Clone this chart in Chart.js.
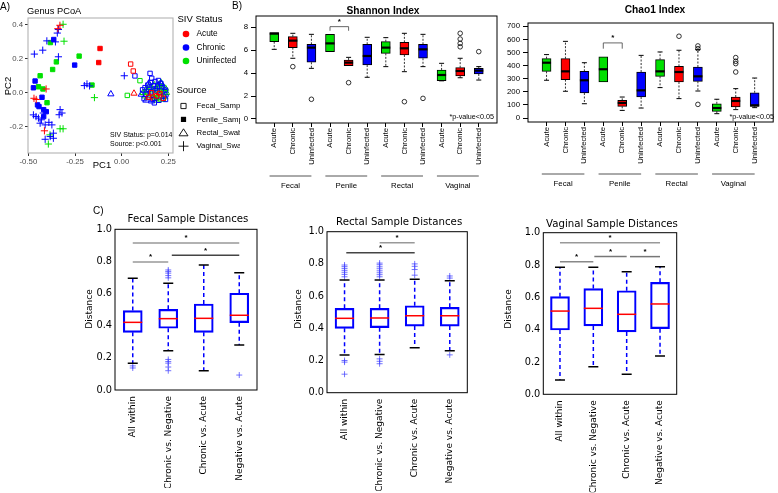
<!DOCTYPE html>
<html><head><meta charset="utf-8"><title>SIV microbiome diversity</title>
<script src="https://cdn.jsdelivr.net/npm/chart.js@4.4.1/dist/chart.umd.min.js"></script>
<style>html,body{margin:0;padding:0;background:#fff;}body{width:778px;height:493px;position:relative;overflow:hidden}canvas{position:absolute;left:0;top:0}</style>
</head><body>
<script>
// ================= DATA =================
// Panel A: Genus PCoA (PC1, PC2) by source and SIV status
const statusNames = ['Acute','Chronic','Uninfected'];
const sourceNames = ['Fecal_Sample','Penile_Sample','Rectal_Swab','Vaginal_Swab'];
const vaginalAcute = [[-0.331,0.398],[-0.342,0.378],[-0.405,0.022],[-0.470,-0.033],[-0.458,-0.040],[-0.414,-0.225]];
const vaginalChronic = [[-0.339,0.373],[-0.345,0.352],[-0.401,0.306],[-0.355,0.300],[-0.423,0.251],[-0.468,0.228],[-0.339,0.212],[-0.200,0.042],[-0.186,0.052],[-0.172,0.040],[0.014,0.100],[-0.473,-0.131],[-0.459,-0.141],[-0.446,-0.150],[-0.437,-0.180],[-0.410,-0.190],[-0.374,-0.190],[-0.330,-0.100],[-0.320,-0.120],[-0.335,-0.130],[-0.366,-0.239],[-0.383,-0.259],[-0.410,-0.275],[-0.366,-0.269],[-0.430,-0.160],[-0.390,-0.175],[-0.420,-0.120]];
const vaginalUninf = [[-0.314,0.404],[-0.309,0.304],[-0.146,-0.029],[-0.330,-0.213],[-0.314,-0.213],[-0.384,-0.249],[-0.393,-0.303]];
const penileAcute = [[-0.116,0.261],[-0.123,0.178]];
const penileChronic = [[-0.364,0.314],[-0.252,0.163],[-0.464,0.069],[-0.473,0.029],[-0.427,-0.027],[-0.451,-0.072],[-0.443,-0.082],[-0.418,-0.100],[-0.404,-0.112],[-0.418,-0.141]];
const penileUninf = [[-0.382,0.296],[-0.350,0.182],[-0.228,0.216],[-0.370,0.137],[-0.437,0.100],[-0.446,0.035],[-0.422,0.022],[-0.159,0.045],[-0.400,-0.059]];
const fecalAcute = [[0.048,0.169],[0.062,0.128],[0.143,-0.027],[0.187,-0.019],[0.223,-0.033],[0.160,0.000],[0.205,-0.005]];
const fecalChronic = [[0.071,0.099],[0.152,0.114],[0.161,0.085],[0.155,0.061],[0.179,0.066],[0.197,0.072],[0.125,0.030],[0.112,0.017],[0.145,0.020],[0.170,0.040],[0.215,0.040],[0.235,0.015],[0.130,-0.010],[0.190,0.010],[0.165,-0.040],[0.200,-0.045],[0.225,-0.020],[0.140,0.045],[0.180,0.025],[0.210,0.055],[0.120,-0.035],[0.175,-0.060],[0.235,-0.040],[0.155,0.005]];
const fecalUninf = [[0.098,0.071],[0.030,-0.016],[0.140,0.010],[0.200,0.030],[0.185,-0.030],[0.230,0.000]];
const rectalAcute = [[0.066,-0.004],[0.150,-0.020],[0.200,0.000],[0.175,-0.035]];
const rectalChronic = [[-0.058,-0.008],[0.212,0.052],[0.105,-0.010],[0.130,-0.045],[0.160,-0.050],[0.190,0.035],[0.225,0.030],[0.235,-0.010],[0.145,0.055]];
const rectalUninf = [[0.115,0.000],[0.130,0.015],[0.140,-0.030],[0.155,0.030],[0.165,0.015],[0.175,0.045],[0.180,-0.010],[0.190,0.020],[0.195,-0.030],[0.200,0.045],[0.205,0.010],[0.210,-0.020],[0.215,0.030],[0.220,-0.040],[0.225,0.015],[0.230,-0.025],[0.235,0.025],[0.240,0.000],[0.185,-0.045],[0.170,-0.025],[0.160,-0.005],[0.150,0.045],[0.125,-0.020],[0.210,0.060]];

// Panel B: alpha diversity boxplots (Fecal, Penile, Rectal, Vaginal x Acute, Chronic, Uninfected)
const groupNames = ['Fecal','Penile','Rectal','Vaginal'];
const boxX = [1,2,3,4,5,6,7,8,9,10,11,12];
const shannonTicks = [0,2,4,6,8];
const shannonQ1  = [6.75,6.23,4.95, 5.88,4.65,4.71, 5.73,5.59,5.30, 3.35,3.75,3.93];
const shannonMed = [7.45,6.84,6.23, 6.60,4.92,5.50, 6.23,6.17,6.08, 3.84,4.19,4.22];
const shannonQ3  = [7.55,7.19,6.52, 7.39,5.15,6.52, 6.75,6.69,6.52, 4.28,4.48,4.42];
const shannonLo  = [6.08,5.30,4.42, 5.88,4.65,3.64, 4.57,4.13,4.57, 3.33,3.60,3.40];
const shannonHi  = [7.55,7.48,7.39, 7.39,5.38,7.13, 7.10,7.48,7.39, 4.86,5.30,4.57];
const shannonOut = [[],[4.57],[1.72],[],[3.17],[],[],[1.51],[1.80],[],[7.48,6.98,6.60,6.30],[5.88]];
const shannonSig = [[4,5,8.06,7.70]];
const chaoTicks = [0,100,200,300,400,500,600,700];
const chaoQ1  = [356,293,191, 275,89,160, 318,275,280, 51,84,89];
const chaoMed = [422,356,288, 372,115,211, 356,351,318, 76,130,97];
const chaoQ3  = [453,453,356, 466,135,351, 445,394,389, 109,160,193];
const chaoLo  = [288,204,109, 275,58,76, 232,148,206, 33,64,79];
const chaoHi  = [484,585,422, 466,160,478, 504,517,522, 143,224,305];
const chaoOut = [[],[],[],[],[],[],[],[624],[550,529,104],[],[461,433,415,351],[]];
const chaoSig = [[4,5,573,529]];

// Panel C: beta diversity distances
const distCats = ['All within','Chronic vs. Negative','Chronic vs. Acute','Negative vs. Acute'];
const distTicks = [0,0.2,0.4,0.6,0.8,1.0];
const fecalQ1=[0.359,0.384,0.359,0.419], fecalMed=[0.421,0.444,0.446,0.465], fecalQ3=[0.494,0.502,0.535,0.602];
const fecalLo=[0.166,0.245,0.120,0.280], fecalHi=[0.695,0.665,0.778,0.730];
const fecalOut=[[0.150,0.137],[0.747,0.737,0.727,0.712,0.698,0.190,0.177,0.167,0.143,0.120],[],[0.093]];
const fecalSig=[[0,3,0.915],[0,1,0.797],[1.1,3,0.838]];
const rectalQ1=[0.400,0.404,0.414,0.414], rectalMed=[0.462,0.464,0.478,0.478], rectalQ3=[0.524,0.524,0.540,0.530];
const rectalLo=[0.234,0.238,0.279,0.261], rectalHi=[0.700,0.700,0.704,0.696];
const rectalOut=[[0.720,0.735,0.748,0.760,0.772,0.783,0.793,0.200,0.190,0.115],[0.720,0.733,0.745,0.757,0.770,0.782,0.795,0.805,0.210,0.195,0.180],[0.730,0.765,0.785,0.800],[0.712,0.725,0.235]];
const rectalSig=[[1,2,0.932],[0.05,2,0.870]];
const vaginalQ1=[0.398,0.423,0.386,0.406], vaginalMed=[0.515,0.532,0.495,0.559], vaginalQ3=[0.604,0.654,0.641,0.693];
const vaginalLo=[0.089,0.171,0.124,0.237], vaginalHi=[0.786,0.786,0.759,0.790];
const vaginalOut=[[],[],[],[]];
const vaginalSig=[[0,3,0.938],[0,1,0.820],[1.03,2,0.852],[2.1,3,0.852]];

// ================= STYLE / HELPERS =================
const SANS = "'Liberation Sans', Arial, Helvetica, sans-serif";
const DJV = "'DejaVu Sans', 'Liberation Sans', sans-serif";
const RED='#FF0000', BLUE='#0000FF', GREEN='#00E000';
const colA = [RED, BLUE, GREEN];       // panel A: Acute, Chronic, Uninfected
const colB = [GREEN, RED, BLUE];       // panel B: Acute, Chronic, Uninfected
Chart.defaults.font.family = SANS;
Chart.defaults.color = '#000';

function mkCanvas(){ const c=document.createElement('canvas'); c.width=778; c.height=493; document.body.appendChild(c); return c; }
function pad(a,yw,xh){ return {left:a.l-yw, top:a.t, right:778-a.r, bottom:493-a.b-xh}; }
function outPts(out, xs){ const r=[]; out.forEach((arr,i)=>arr.forEach(v=>r.push({x:xs[i], y:v}))); return r; }
function fmt(v,d){ return (Math.abs(v)<1e-9?0:v).toFixed(d); }

// ================= PLUGINS =================
const textPlugin = { id:'texts', afterDraw(chart,args,o){
  if(!o.items) return; const c=chart.ctx;
  o.items.forEach(t=>{ c.save(); c.font=t.font; c.fillStyle=t.color||'#000'; c.textAlign=t.align||'left'; c.textBaseline='middle';
    c.translate(t.x,t.y); if(t.rot) c.rotate(t.rot*Math.PI/180); c.fillText(t.text,0,0); c.restore(); });
}};
const framePlugin = { id:'frame', afterDraw(chart,args,o){
  if(!o.color) return; const a=chart.chartArea, c=chart.ctx;
  c.save(); c.strokeStyle=o.color; c.lineWidth=o.width; c.strokeRect(a.left,a.top,a.right-a.left,a.bottom-a.top); c.restore();
}};
const boxPlugin = { id:'boxes', afterDatasetsDraw(chart,args,o){
  if(!o.q1) return; const xs=chart.scales.x, ys=chart.scales.y, c=chart.ctx, Y=v=>ys.getPixelForValue(v);
  c.save();
  o.q1.forEach((q1,i)=>{
    const x=xs.getPixelForValue(o.xs[i]);
    c.strokeStyle=o.wColor; c.lineWidth=o.wWidth; c.setLineDash(o.wDash);
    c.beginPath();
    if(o.hi[i]>o.q3[i]){ c.moveTo(x,Y(o.q3[i])); c.lineTo(x,Y(o.hi[i])); }
    if(o.lo[i]<q1){ c.moveTo(x,Y(q1)); c.lineTo(x,Y(o.lo[i])); }
    c.stroke(); c.setLineDash([]);
    c.strokeStyle=o.cColor; c.lineWidth=o.cWidth; c.beginPath();
    if(o.hi[i]>o.q3[i]){ c.moveTo(x-o.capW/2,Y(o.hi[i])); c.lineTo(x+o.capW/2,Y(o.hi[i])); }
    if(o.lo[i]<q1){ c.moveTo(x-o.capW/2,Y(o.lo[i])); c.lineTo(x+o.capW/2,Y(o.lo[i])); }
    c.stroke();
    c.strokeStyle=o.mColor; c.lineWidth=o.mWidth; c.beginPath();
    c.moveTo(x-o.boxW/2,Y(o.med[i])); c.lineTo(x+o.boxW/2,Y(o.med[i])); c.stroke();
  });
  c.restore();
}};
const sigPlugin = { id:'sig', afterDraw(chart,args,o){
  if(!o.pairs) return; const xs=chart.scales.x, ys=chart.scales.y, c=chart.ctx;
  c.save();
  o.pairs.forEach((p,k)=>{
    const a=xs.getPixelForValue(p[0]), b=xs.getPixelForValue(p[1]), y=ys.getPixelForValue(p[2]);
    c.strokeStyle=o.colors[k]; c.lineWidth=o.width; c.beginPath();
    if(p.length>3){ const y2=ys.getPixelForValue(p[3]); c.moveTo(a,y2); c.lineTo(a,y); c.lineTo(b,y); c.lineTo(b,y2); }
    else { c.moveTo(a,y); c.lineTo(b,y); }
    c.stroke();
    c.fillStyle='#000'; c.font=o.font; c.textAlign='center'; c.textBaseline='middle'; c.fillText('*',(a+b)/2,y-o.starOff);
  });
  c.restore();
}};
const groupPlugin = { id:'groups', afterDraw(chart,args,o){
  if(!o.names) return; const xs=chart.scales.x, c=chart.ctx;
  c.save();
  o.names.forEach((n,g)=>{
    const a=xs.getPixelForValue(g*3+0.75), b=xs.getPixelForValue(g*3+3);
    c.strokeStyle='#555'; c.lineWidth=1; c.beginPath(); c.moveTo(a,o.lineY); c.lineTo(b,o.lineY); c.stroke();
    c.fillStyle='#000'; c.font=o.font; c.textAlign='center'; c.textBaseline='middle'; c.fillText(n,(a+b)/2,o.labelY);
  });
  c.restore();
}};
const legendAPlugin = { id:'legendA', afterDraw(chart,args,o){
  if(!o.show) return; const c=chart.ctx; c.save(); c.textBaseline='middle'; c.textAlign='left';
  c.fillStyle='#000'; c.font=`9.5px ${SANS}`; c.fillText('SIV Status',177.5,19.5);
  statusNames.forEach((n,i)=>{ const y=34+i*13.5; c.fillStyle=colA[i]; c.beginPath(); c.arc(186,y,3.3,0,2*Math.PI); c.fill();
    c.fillStyle='#000'; c.font=`8.3px ${SANS}`; c.fillText(n,196.5,y); });
  c.font=`9.5px ${SANS}`; c.fillText('Source',176.5,90);
  c.beginPath(); c.rect(0,0,240,493); c.clip();
  sourceNames.forEach((n,i)=>{ const y=106+i*13.4, x=183.5; c.strokeStyle='#000'; c.fillStyle='#000'; c.lineWidth=0.9;
    c.beginPath();
    if(i===0){ c.rect(x-2.6,y-2.6,5.2,5.2); c.stroke(); }
    else if(i===1){ c.rect(x-2.6,y-2.6,5.2,5.2); c.fill(); }
    else if(i===2){ c.moveTo(x,y-4); c.lineTo(x+4.5,y+3); c.lineTo(x-4.5,y+3); c.closePath(); c.stroke(); }
    else { c.moveTo(x-5,y); c.lineTo(x+5,y); c.moveTo(x,y-5); c.lineTo(x,y+5); c.stroke(); }
    c.font=`7.8px ${SANS}`; c.fillText(n,196.5,y); });
  c.restore();
}};
Chart.register(textPlugin, framePlugin, boxPlugin, sigPlugin, groupPlugin, legendAPlugin);

const common = { responsive:false, animation:false, events:[] };

// ================= PANEL A =================
function ptDs(data, color, style, filled, r){
  return { data:data.map(p=>({x:p[0],y:p[1]})), pointStyle:style, pointRadius:r,
    pointBorderColor:color, pointBackgroundColor: filled?color:'rgba(0,0,0,0)', pointBorderWidth:1 };
}
const areaA = {l:28, t:18, r:173, b:153};
new Chart(mkCanvas(), { type:'scatter',
  data:{ datasets:[
    ptDs(vaginalAcute,colA[0],'cross',false,3.6), ptDs(vaginalChronic,colA[1],'cross',false,3.6), ptDs(vaginalUninf,colA[2],'cross',false,3.6),
    ptDs(penileAcute,colA[0],'rect',true,3.1), ptDs(penileChronic,colA[1],'rect',true,3.1), ptDs(penileUninf,colA[2],'rect',true,3.1),
    ptDs(fecalAcute,colA[0],'rect',false,3.1), ptDs(fecalChronic,colA[1],'rect',false,3.1), ptDs(fecalUninf,colA[2],'rect',false,3.1),
    ptDs(rectalAcute,colA[0],'triangle',false,3.6), ptDs(rectalChronic,colA[1],'triangle',false,3.6), ptDs(rectalUninf,colA[2],'triangle',false,3.6)
  ]},
  options:{ ...common, layout:{padding:pad(areaA,25,20)},
    scales:{
      x:{ type:'linear', min:-0.502, max:0.275, afterFit:s=>{s.height=20;},
        ticks:{stepSize:0.25, includeBounds:false, autoSkip:false, maxRotation:0, color:'#4d4d4d', font:{size:7.8}, padding:1, callback:v=>fmt(v,2)},
        grid:{drawOnChartArea:false, tickLength:3, color:'#333'}, border:{display:false} },
      y:{ type:'linear', min:-0.356, max:0.441, afterFit:s=>{s.width=25;},
        ticks:{stepSize:0.2, includeBounds:false, autoSkip:false, color:'#4d4d4d', font:{size:7.8}, padding:2, callback:v=>fmt(v,1)},
        grid:{drawOnChartArea:false, tickLength:3, color:'#333'}, border:{display:false} }
    },
    plugins:{ legend:{display:false}, tooltip:{enabled:false},
      frame:{color:'#b3b3b3', width:1.1}, legendA:{show:true},
      texts:{items:[
        {text:'A)',x:0,y:7,font:`10px ${SANS}`},
        {text:'Genus PCoA',x:27,y:11.5,font:`9.3px ${SANS}`},
        {text:'PC2',x:8.5,y:86,rot:-90,align:'center',font:`9.5px ${SANS}`},
        {text:'PC1',x:102,y:165,align:'center',font:`9.5px ${SANS}`},
        {text:'SIV Status: p=0.014',x:110,y:135,font:`7px ${SANS}`},
        {text:'Source: p<0.001',x:110,y:144,font:`7px ${SANS}`}
      ]} } }
});

// ================= PANEL B =================
function boxChart(area, yw, ymin, ymax, ticks, q1, med, q3, lo, hi, out, sig, texts, groupY){
  new Chart(mkCanvas(), { type:'bar',
    data:{ datasets:[
      { type:'bar', data:q1.map((v,i)=>({x:boxX[i], y:[v,q3[i]]})), backgroundColor:boxX.map((x,i)=>colB[i%3]),
        borderColor:'#000', borderWidth:1, borderSkipped:false, barThickness:9 },
      { type:'scatter', data:outPts(out, boxX), pointStyle:'circle', pointRadius:2.3,
        pointBackgroundColor:'rgba(0,0,0,0)', pointBorderColor:'#000', pointBorderWidth:0.8 }
    ]},
    options:{ ...common, layout:{padding:pad(area,yw,45)},
      scales:{
        x:{ type:'linear', min:0.02, max:12.98, offset:false, afterFit:s=>{s.height=45;},
          afterBuildTicks:s=>{ s.ticks = boxX.map(v=>({value:v})); },
          ticks:{autoSkip:false, minRotation:90, maxRotation:90, font:{size:7.7}, padding:1, callback:v=>statusNames[(Math.round(v)-1)%3]},
          grid:{drawOnChartArea:false, offset:false, tickLength:4, color:'#000'}, border:{display:false} },
        y:{ type:'linear', min:ymin, max:ymax, afterFit:s=>{s.width=yw;},
          afterBuildTicks:s=>{ s.ticks = ticks.map(v=>({value:v})); },
          ticks:{autoSkip:false, font:{size:7.8}, padding:3, callback:v=>String(v)},
          grid:{drawOnChartArea:false, tickLength:5, color:'#000'}, border:{display:false} }
      },
      plugins:{ legend:{display:false}, tooltip:{enabled:false},
        frame:{color:'#000', width:1},
        boxes:{xs:boxX, q1:q1, med:med, q3:q3, lo:lo, hi:hi, boxW:9, capW:5, wColor:'#000', wWidth:0.8, wDash:[2,1.5], cColor:'#000', cWidth:1, mColor:'#000', mWidth:2.2},
        sig:{pairs:sig, colors:['#555'], width:0.9, font:`bold 8px ${SANS}`, starOff:5},
        groups:{names:groupNames, lineY:groupY, labelY:groupY+10, font:`7.8px ${SANS}`},
        texts:{items: texts}
      } }
  });
}
boxChart({l:256,t:16,r:497,b:123}, 22, -0.35, 8.99, shannonTicks, shannonQ1, shannonMed, shannonQ3, shannonLo, shannonHi, shannonOut, shannonSig,
  [ {text:'B)',x:232,y:6.5,font:`10px ${SANS}`},
    {text:'Shannon Index',x:383,y:11,align:'center',font:`bold 10.2px ${SANS}`},
    {text:'*p-value<0.05',x:494,y:117,align:'right',font:`7.2px ${SANS}`} ], 176);
boxChart({l:528,t:23,r:776.5,b:122}, 26, -30.5, 725, chaoTicks, chaoQ1, chaoMed, chaoQ3, chaoLo, chaoHi, chaoOut, chaoSig,
  [ {text:'Chao1 Index',x:655,y:10.5,align:'center',font:`bold 10.2px ${SANS}`},
    {text:'*p-value<0.05',x:774,y:117,align:'right',font:`7.2px ${SANS}`} ], 174);

// ================= PANEL C =================
function distChart(area, title, titleY, distX, q1, med, q3, lo, hi, out, sig, sigColors, extra){
  new Chart(mkCanvas(), { type:'bar',
    data:{ labels:distCats, datasets:[
      { type:'bar', data:q1.map((v,i)=>[v,q3[i]]), backgroundColor:'rgba(255,255,255,0)', borderColor:BLUE,
        borderWidth:1.5, borderSkipped:false, barThickness:19 },
      { type:'scatter', data:outPts(out, distCats), pointStyle:'cross', pointRadius:3,
        pointBorderColor:'rgba(70,70,255,0.75)', pointBorderWidth:1 }
    ]},
    options:{ ...common, layout:{padding:pad(area,28,98)},
      scales:{
        x:{ type:'category', afterFit:s=>{s.height=98;},
          ticks:{autoSkip:false, minRotation:90, maxRotation:90, font:{size:9, family:DJV}, padding:6},
          grid:{display:false, drawTicks:false}, border:{display:false} },
        y:{ type:'linear', min:0, max:1, afterFit:s=>{s.width=28;},
          afterBuildTicks:s=>{ s.ticks = distTicks.map(v=>({value:v})); },
          ticks:{autoSkip:false, font:{size:9.8, family:DJV}, padding:3, callback:v=>fmt(v,1)},
          grid:{display:false, drawTicks:false}, border:{display:false} }
      },
      plugins:{ legend:{display:false}, tooltip:{enabled:false},
        frame:{color:'#000', width:1},
        boxes:{xs:[0,1,2,3], q1:q1, med:med, q3:q3, lo:lo, hi:hi, boxW:19, capW:10, wColor:BLUE, wWidth:1.5, wDash:[4,3], cColor:'#000', cWidth:1.5, mColor:'#FF0000', mWidth:1.5},
        sig:{pairs:sig, colors:sigColors, width:1.5, font:`bold 8px ${SANS}`, starOff:5},
        texts:{items:[
          {text:title, x:(area.l+area.r)/2+2, y:titleY, align:'center', font:`10.2px ${DJV}`},
          {text:'Distance', x:distX, y:309, rot:-90, align:'center', font:`9px ${DJV}`}
        ].concat(extra)}
      } }
  });
}
distChart({l:115,t:229.3,r:257,b:390}, 'Fecal Sample Distances', 219, 90, fecalQ1, fecalMed, fecalQ3, fecalLo, fecalHi, fecalOut, fecalSig, ['#999','#999','#444'],
  [{text:'C)', x:93, y:211, font:`10px ${SANS}`}]);
distChart({l:327,t:231.7,r:467.3,b:392.7}, 'Rectal Sample Distances', 222.5, 299, rectalQ1, rectalMed, rectalQ3, rectalLo, rectalHi, rectalOut, rectalSig, ['#999','#444'], []);
distChart({l:543.3,t:232.7,r:676.7,b:394.3}, 'Vaginal Sample Distances', 224.5, 509, vaginalQ1, vaginalMed, vaginalQ3, vaginalLo, vaginalHi, vaginalOut, vaginalSig, ['#999','#888','#777','#777'], []);
</script>
</body></html>
